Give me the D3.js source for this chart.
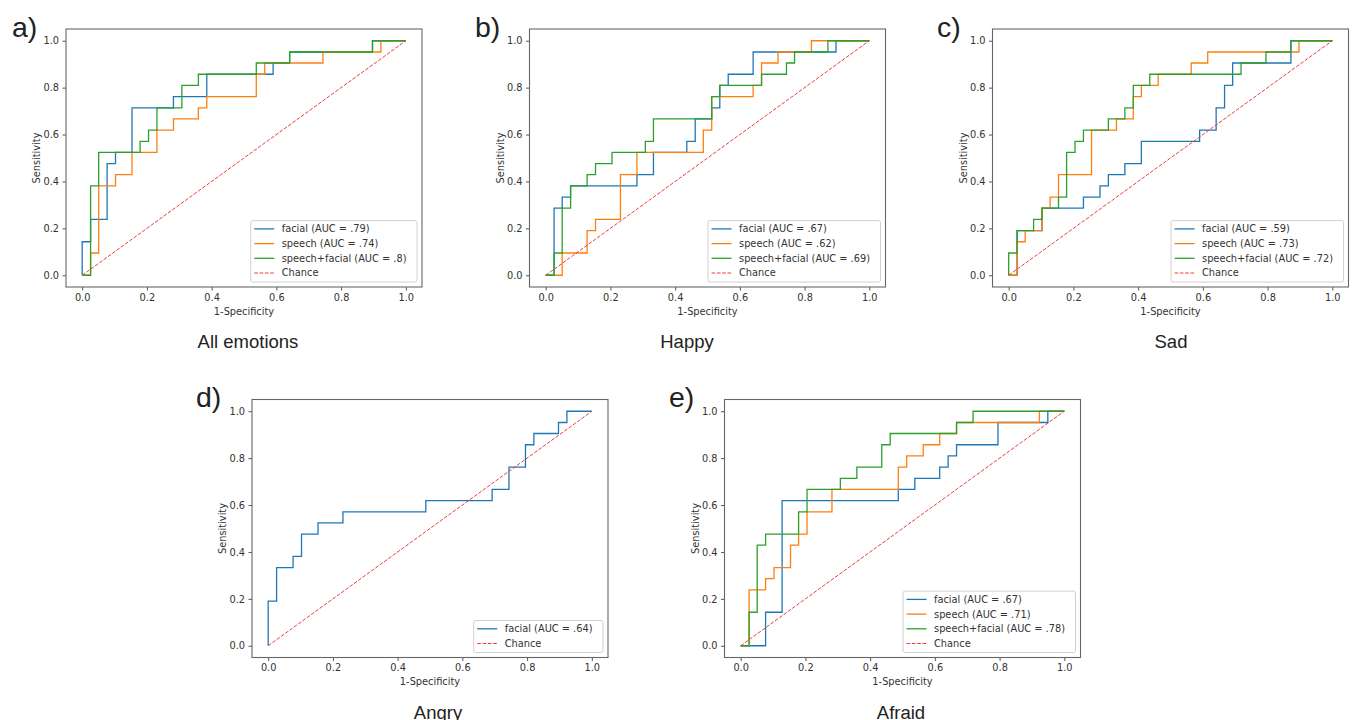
<!DOCTYPE html>
<html>
<head>
<meta charset="utf-8">
<script src="https://cdn.jsdelivr.net/npm/d3@7"></script>
<style>
    body { margin: 0; background: #fff; }
    svg text { font-family: "DejaVu Sans", sans-serif; }
    .tag, .subtitle { font-family: "Liberation Sans", Arial, sans-serif; }
</style>
</head>
<body>
<svg id="chart" width="1357" height="720"></svg>
<script>
// ROC points [1-specificity, sensitivity]
const allFacial = [[0,0],[0,.143],[.026,.143],[.026,.238],[.077,.238],[.077,.476],[.103,.476],[.103,.524],[.154,.524],[.154,.714],[.282,.714],[.282,.762],[.385,.762],[.385,.857],[.590,.857],[.590,.905],[.641,.905],[.641,.952],[.897,.952],[.897,1],[1,1]];
const allSpeech = [[0,0],[.026,0],[.026,.095],[.051,.095],[.051,.381],[.103,.381],[.103,.429],[.154,.429],[.154,.524],[.231,.524],[.231,.619],[.282,.619],[.282,.667],[.359,.667],[.359,.714],[.385,.714],[.385,.762],[.538,.762],[.538,.857],[.564,.857],[.564,.905],[.744,.905],[.744,.952],[.923,.952],[.923,1],[1,1]];
const allFusion = [[0,0],[.026,0],[.026,.381],[.051,.381],[.051,.524],[.179,.524],[.179,.571],[.205,.571],[.205,.619],[.231,.619],[.231,.714],[.308,.714],[.308,.810],[.359,.810],[.359,.857],[.538,.857],[.538,.905],[.641,.905],[.641,.952],[.897,.952],[.897,1],[1,1]];

const happyFacial = [[0,0],[.026,0],[.026,.286],[.051,.286],[.051,.333],[.077,.333],[.077,.381],[.282,.381],[.282,.429],[.333,.429],[.333,.524],[.436,.524],[.436,.571],[.462,.571],[.462,.667],[.513,.667],[.513,.714],[.538,.714],[.538,.810],[.564,.810],[.564,.857],[.641,.857],[.641,.952],[.897,.952],[.897,1],[1,1]];
const happySpeech = [[0,0],[.051,0],[.051,.095],[.128,.095],[.128,.190],[.154,.190],[.154,.238],[.231,.238],[.231,.429],[.282,.429],[.282,.524],[.487,.524],[.487,.619],[.513,.619],[.513,.762],[.641,.762],[.641,.810],[.667,.810],[.667,.905],[.718,.905],[.718,.952],[.821,.952],[.821,1],[1,1]];
const happyFusion = [[0,0],[.026,0],[.026,.095],[.051,.095],[.051,.286],[.077,.286],[.077,.381],[.128,.381],[.128,.429],[.154,.429],[.154,.476],[.205,.476],[.205,.524],[.308,.524],[.308,.571],[.333,.571],[.333,.667],[.513,.667],[.513,.762],[.538,.762],[.538,.810],[.667,.810],[.667,.857],[.744,.857],[.744,.905],[.769,.905],[.769,.952],[.872,.952],[.872,1],[1,1]];

const sadFacial = [[0,0],[.026,0],[.026,.190],[.103,.190],[.103,.286],[.231,.286],[.231,.333],[.282,.333],[.282,.381],[.308,.381],[.308,.429],[.359,.429],[.359,.476],[.410,.476],[.410,.571],[.590,.571],[.590,.619],[.641,.619],[.641,.714],[.667,.714],[.667,.810],[.692,.810],[.692,.905],[.872,.905],[.872,1],[1,1]];
const sadSpeech = [[0,0],[.026,0],[.026,.143],[.051,.143],[.051,.190],[.103,.190],[.103,.286],[.128,.286],[.128,.333],[.154,.333],[.154,.429],[.256,.429],[.256,.619],[.333,.619],[.333,.667],[.385,.667],[.385,.762],[.410,.762],[.410,.810],[.462,.810],[.462,.857],[.564,.857],[.564,.905],[.615,.905],[.615,.952],[.897,.952],[.897,1],[1,1]];
const sadFusion = [[0,0],[0,.095],[.026,.095],[.026,.190],[.077,.190],[.077,.238],[.103,.238],[.103,.286],[.154,.286],[.154,.333],[.179,.333],[.179,.524],[.205,.524],[.205,.571],[.231,.571],[.231,.619],[.308,.619],[.308,.667],[.359,.667],[.359,.714],[.385,.714],[.385,.810],[.436,.810],[.436,.857],[.718,.857],[.718,.905],[.795,.905],[.795,.952],[.872,.952],[.872,1],[1,1]];

const angryFacial = [[0,0],[0,.190],[.026,.190],[.026,.333],[.077,.333],[.077,.381],[.103,.381],[.103,.476],[.154,.476],[.154,.524],[.231,.524],[.231,.571],[.487,.571],[.487,.619],[.692,.619],[.692,.667],[.744,.667],[.744,.762],[.795,.762],[.795,.857],[.821,.857],[.821,.905],[.897,.905],[.897,.952],[.923,.952],[.923,1],[1,1]];

const afraidFacial = [[0,0],[.077,0],[.077,.143],[.128,.143],[.128,.619],[.487,.619],[.487,.667],[.538,.667],[.538,.714],[.615,.714],[.615,.762],[.641,.762],[.641,.810],[.667,.810],[.667,.857],[.795,.857],[.795,.952],[.949,.952],[.949,1],[1,1]];
const afraidSpeech = [[0,0],[.026,0],[.026,.238],[.077,.238],[.077,.286],[.103,.286],[.103,.333],[.154,.333],[.154,.429],[.179,.429],[.179,.476],[.205,.476],[.205,.571],[.282,.571],[.282,.667],[.487,.667],[.487,.762],[.513,.762],[.513,.810],[.564,.810],[.564,.857],[.615,.857],[.615,.905],[.667,.905],[.667,.952],[.923,.952],[.923,1],[1,1]];
const afraidFusion = [[0,0],[.026,0],[.026,.143],[.051,.143],[.051,.429],[.077,.429],[.077,.476],[.179,.476],[.179,.571],[.205,.571],[.205,.667],[.308,.667],[.308,.714],[.359,.714],[.359,.762],[.436,.762],[.436,.857],[.462,.857],[.462,.905],[.667,.905],[.667,.952],[.718,.952],[.718,1],[1,1]];

const chance = [[0,0],[1,1]];

const seriesNames = ['facial', 'speech', 'speech+facial'];
const aucAll = ['.79', '.74', '.8'];
const aucHappy = ['.67', '.62', '.69'];
const aucSad = ['.59', '.73', '.72'];
const aucAngry = ['.64'];
const aucAfraid = ['.67', '.71', '.78'];

const xTicks = [0, 0.2, 0.4, 0.6, 0.8, 1.0];
const yTicks = [0, 0.2, 0.4, 0.6, 0.8, 1.0];

const COLORS = ['#1f77b4', '#ff7f0e', '#2ca02c'];
const CHANCE_COLOR = '#f23a3a';
const PLOT_W = 356;
const PLOT_H = 258;
const FONT = 9.8;

const panels = [
    { tag: 'a)', title: 'All emotions', left: 66, top: 29, tagX: 12, titleX: 248, curves: [allFacial, allSpeech, allFusion], auc: aucAll },
    { tag: 'b)', title: 'Happy', left: 529.5, top: 29, tagX: 475, titleX: 687, curves: [happyFacial, happySpeech, happyFusion], auc: aucHappy },
    { tag: 'c)', title: 'Sad', left: 992.5, top: 29, tagX: 937, titleX: 1171, curves: [sadFacial, sadSpeech, sadFusion], auc: aucSad },
    { tag: 'd)', title: 'Angry', left: 252, top: 399.5, tagX: 196, titleX: 438, curves: [angryFacial], auc: aucAngry },
    { tag: 'e)', title: 'Afraid', left: 724.5, top: 399.5, tagX: 669, titleX: 901, curves: [afraidFacial, afraidSpeech, afraidFusion], auc: aucAfraid }
];

const svg = d3.select('#chart');

panels.forEach((p) => drawPanel(p));

function drawPanel(p) {
    const g = svg.append('g').attr('transform', `translate(${p.left},${p.top})`);

    const x = d3.scaleLinear().domain([-0.05, 1.05]).range([0, PLOT_W]);
    const y = d3.scaleLinear().domain([-0.05, 1.05]).range([PLOT_H, 0]);

    const xAxis = g.append('g')
        .attr('transform', `translate(0,${PLOT_H})`)
        .call(d3.axisBottom(x).tickValues(xTicks).tickFormat(d3.format('.1f')).tickSize(3.5).tickPadding(3.5));
    const yAxis = g.append('g')
        .call(d3.axisLeft(y).tickValues(yTicks).tickFormat(d3.format('.1f')).tickSize(3.5).tickPadding(3.5));

    [xAxis, yAxis].forEach((axis) => {
        axis.select('.domain').remove();
        axis.selectAll('line').attr('stroke', '#555');
        axis.selectAll('text').attr('fill', '#333').style('font-size', `${FONT}px`).style('font-family', '"DejaVu Sans", sans-serif');
    });

    g.append('text')
        .attr('x', PLOT_W / 2)
        .attr('y', PLOT_H + 27.5)
        .attr('text-anchor', 'middle')
        .attr('fill', '#333')
        .style('font-size', `${FONT}px`)
        .text('1-Specificity');

    g.append('text')
        .attr('transform', `translate(-26,${PLOT_H / 2}) rotate(-90)`)
        .attr('text-anchor', 'middle')
        .attr('fill', '#333')
        .style('font-size', `${FONT}px`)
        .text('Sensitivity');

    const line = d3.line().x((d) => x(d[0])).y((d) => y(d[1]));

    p.curves.forEach((curve, i) => {
        g.append('path')
            .datum(curve)
            .attr('d', line)
            .attr('fill', 'none')
            .attr('stroke', COLORS[i])
            .attr('stroke-width', 1.3);
    });

    g.append('path')
        .datum(chance)
        .attr('d', line)
        .attr('fill', 'none')
        .attr('stroke', CHANCE_COLOR)
        .attr('stroke-width', 1)
        .attr('stroke-dasharray', '3.7,1.6');

    g.append('rect')
        .attr('width', PLOT_W)
        .attr('height', PLOT_H)
        .attr('fill', 'none')
        .attr('stroke', '#666')
        .attr('stroke-width', 1.1);

    drawLegend(g, p);

    svg.append('text')
        .attr('class', 'tag')
        .attr('x', p.tagX)
        .attr('y', p.top + 7.5)
        .attr('fill', '#222')
        .style('font-size', '28.5px')
        .text(p.tag);

    // the bottom-row subtitles run off the page edge, as in the source figure
    svg.append('text')
        .attr('class', 'subtitle')
        .attr('x', p.titleX)
        .attr('y', p.top + 319)
        .attr('text-anchor', 'middle')
        .attr('fill', '#222')
        .style('font-size', '18.5px')
        .text(p.title);
}

function drawLegend(g, p) {
    const entries = p.curves.map((c, i) => ({
        label: `${seriesNames[i]} (AUC = ${p.auc[i]})`,
        color: COLORS[i],
        dash: null
    }));
    entries.push({ label: 'Chance', color: CHANCE_COLOR, dash: '3.7,1.6' });

    const rowGap = 14.7;
    const boxH = 17.3 + rowGap * (entries.length - 1);
    const legend = g.append('g');
    const box = legend.append('rect')
        .attr('rx', 2)
        .attr('fill', '#fff')
        .attr('fill-opacity', 0.85)
        .attr('stroke', '#d0d0d0')
        .attr('stroke-width', 1);

    let maxW = 0;
    entries.forEach((e, i) => {
        const cy = 8.3 + i * rowGap;
        legend.append('line')
            .attr('x1', 3.5).attr('x2', 23.5)
            .attr('y1', cy).attr('y2', cy)
            .attr('stroke', e.color)
            .attr('stroke-width', e.dash ? 1 : 1.3)
            .attr('stroke-dasharray', e.dash);
        const t = legend.append('text')
            .attr('x', 31)
            .attr('y', cy)
            .attr('dy', '0.35em')
            .attr('fill', '#333')
            .style('font-size', `${FONT}px`)
            .text(e.label);
        maxW = Math.max(maxW, t.node().getComputedTextLength());
    });

    const boxW = 31 + maxW + 10.5;
    box.attr('width', boxW).attr('height', boxH);
    legend.attr('transform', `translate(${PLOT_W - 5 - boxW},${PLOT_H - 5 - boxH})`);
}
</script>
</body>
</html>
